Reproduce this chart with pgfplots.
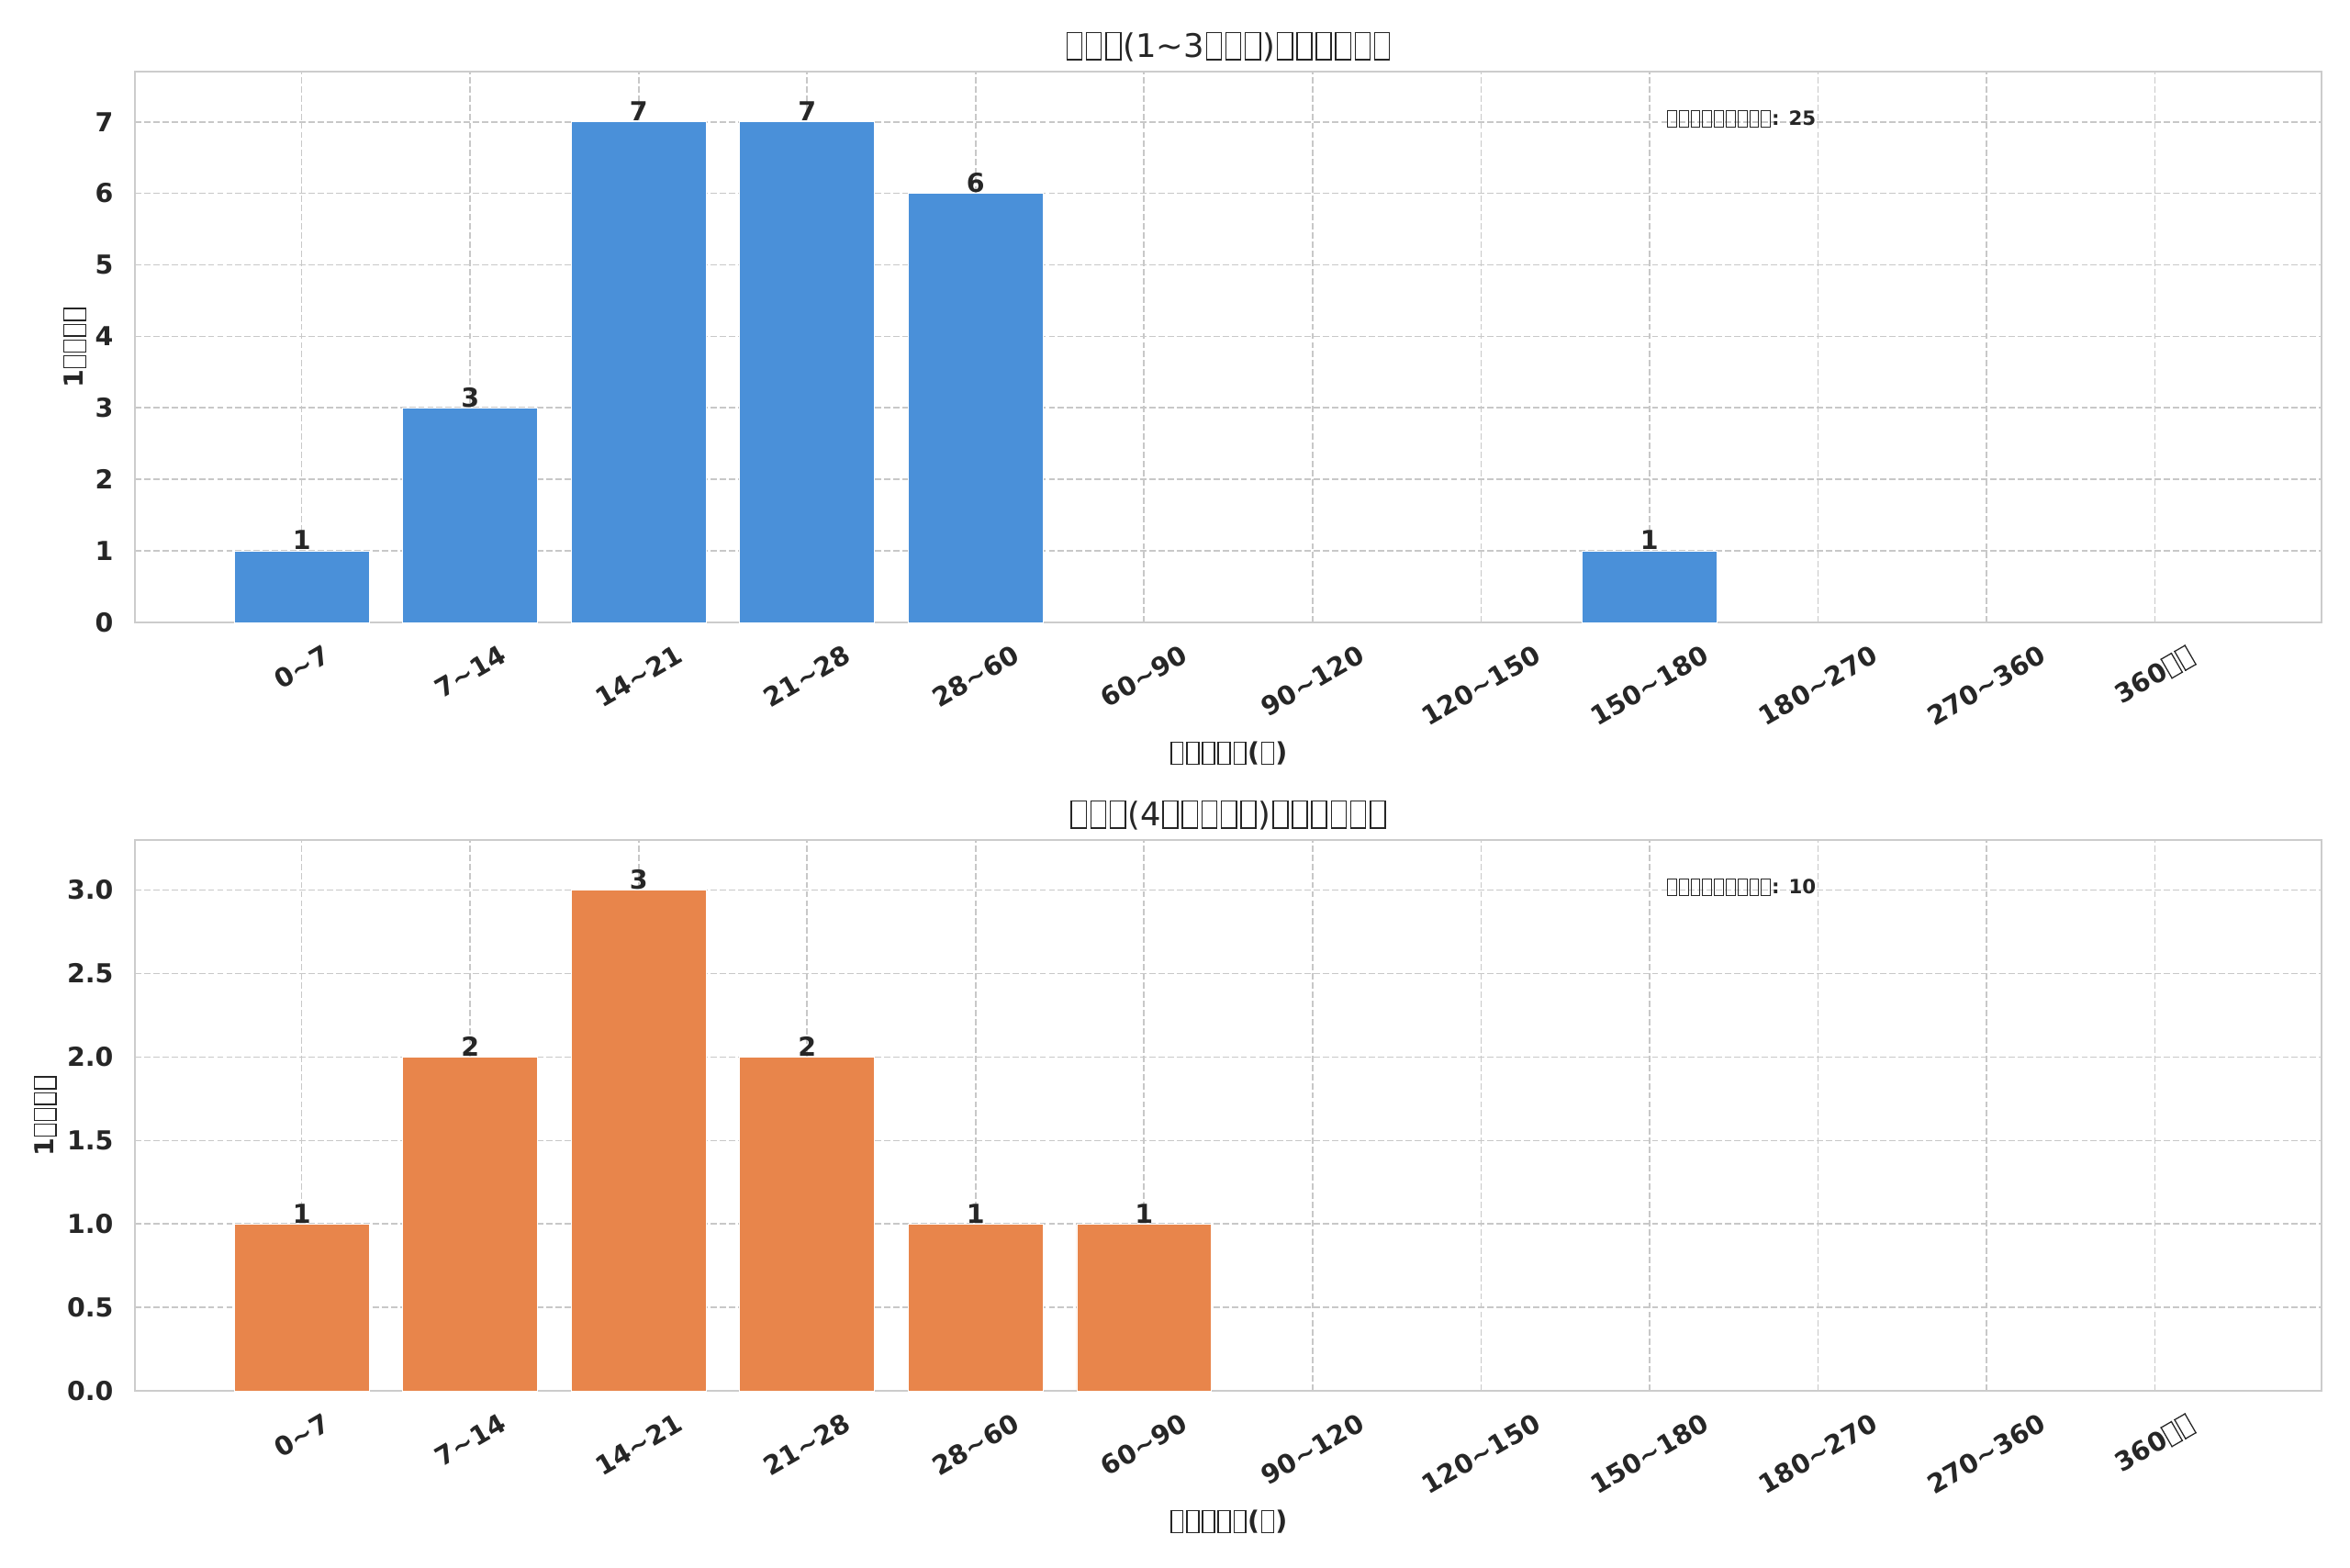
\documentclass[border=0pt]{standalone}
\usepackage{fontspec}
\setmainfont{DejaVu Sans}
\usepackage{pgfplots}
\pgfplotsset{compat=1.18}
\definecolor{txt}{HTML}{262626}
\definecolor{gridc}{HTML}{C8C8C8}
\definecolor{axc}{HTML}{CCCCCC}
\definecolor{barblue}{HTML}{4A90D9}
\definecolor{barorange}{HTML}{E8854B}
% box glyph that the reference shows for its missing characters
\newcommand\tf{\kern0.05em\lower0.1em\hbox{\vrule width0.045em height0.88em depth0pt\kern-0.045em\vbox to 0.88em{\hrule width0.5em height0.045em\vfill\hrule width0.5em height0.045em}\kern-0.045em\vrule width0.045em height0.88em depth0pt}\kern0.05em}
\newcommand\rl[1]{\rotatebox{30}{#1}}
\pgfplotsset{
  base/.style={
    width=1005pt, height=253.1pt, scale only axis,
    ybar, bar width=0.8,
    xmin=-0.99, xmax=11.99, ymin=0,
    enlargelimits=false,
    xtick={0,...,11},
    xticklabels={\rl{0\textasciitilde 7},\rl{7\textasciitilde 14},\rl{14\textasciitilde 21},\rl{21\textasciitilde 28},\rl{28\textasciitilde 60},\rl{60\textasciitilde 90},\rl{90\textasciitilde 120},\rl{120\textasciitilde 150},\rl{150\textasciitilde 180},\rl{180\textasciitilde 270},\rl{270\textasciitilde 360},\rl{360\tf\tf}},
    grid=major,
    major grid style={gridc, line width=0.7pt, dash pattern=on 2.9pt off 1.3pt},
    axis line style={axc, line width=0.7pt},
    major tick length=0pt,
    tick label style={font=\fontsize{12}{14}\selectfont\bfseries, text=txt},
    /pgf/number format/assume math mode=true,
    xticklabel style={anchor=north, inner sep=0pt, yshift=-9.7pt},
    yticklabel style={anchor=east, inner sep=0pt, xshift=-9.7pt},
    xlabel style={at={(axis description cs:0.5,0)}, anchor=base, yshift=-64.1pt, font=\fontsize{12}{14}\selectfont\bfseries, text=txt, inner sep=0pt},
    ylabel style={anchor=base, font=\fontsize{12}{14}\selectfont\bfseries, text=txt, inner sep=0pt},
    title style={at={(axis description cs:0.5,1)}, anchor=base, yshift=0.7pt, font=\fontsize{14.9}{17}\selectfont, text=txt, inner sep=0pt},
    nodes near coords,
    every node near coord/.append style={anchor=base, inner sep=0pt, yshift=0.5pt, font=\fontsize{12}{14}\selectfont\bfseries, text=txt},
    y filter/.expression={y==0 ? nan : y}, unbounded coords=discard,
    xlabel={\tf\tf\tf\tf\tf(\tf)},
    ylabel={1\tf\tf\tf\tf},
  }
}
\begin{document}
\begin{tikzpicture}
\path[use as bounding box] (0,0) rectangle (1080pt,720.16pt);
\begin{axis}[base, at={(62pt,434.1pt)}, anchor=south west,
  ymax=7.7, ytick={0,...,7},
  ylabel style={at={(axis description cs:-0.0235,0.5)}},
  title={\tf\tf\tf(1\textasciitilde 3\tf\tf\tf)\tf\tf\tf\tf\tf\tf}]
\addplot[fill=barblue, draw=white, line width=0.3pt] coordinates {
  (0,1) (1,3) (2,7) (3,7) (4,6) (5,0) (6,0) (7,0) (8,1) (9,0) (10,0) (11,0)};
\node[anchor=base west, font=\fontsize{9}{11}\selectfont\bfseries, text=txt, inner sep=0pt] at (rel axis cs:0.7,0.902) {\tf\tf\tf\tf\tf\tf\tf\tf\tf: 25};
\end{axis}
\begin{axis}[base, at={(62pt,81pt)}, anchor=south west,
  ymax=3.3, ytick={0,0.5,...,3},
  yticklabel style={/pgf/number format/.cd, fixed, fixed zerofill, precision=1},
  ylabel style={at={(axis description cs:-0.037,0.5)}},
  title={\tf\tf\tf(4\tf\tf\tf\tf\tf)\tf\tf\tf\tf\tf\tf}]
\addplot[fill=barorange, draw=white, line width=0.3pt] coordinates {
  (0,1) (1,2) (2,3) (3,2) (4,1) (5,1) (6,0) (7,0) (8,0) (9,0) (10,0) (11,0)};
\node[anchor=base west, font=\fontsize{9}{11}\selectfont\bfseries, text=txt, inner sep=0pt] at (rel axis cs:0.7,0.902) {\tf\tf\tf\tf\tf\tf\tf\tf\tf: 10};
\end{axis}
\end{tikzpicture}
\end{document}
